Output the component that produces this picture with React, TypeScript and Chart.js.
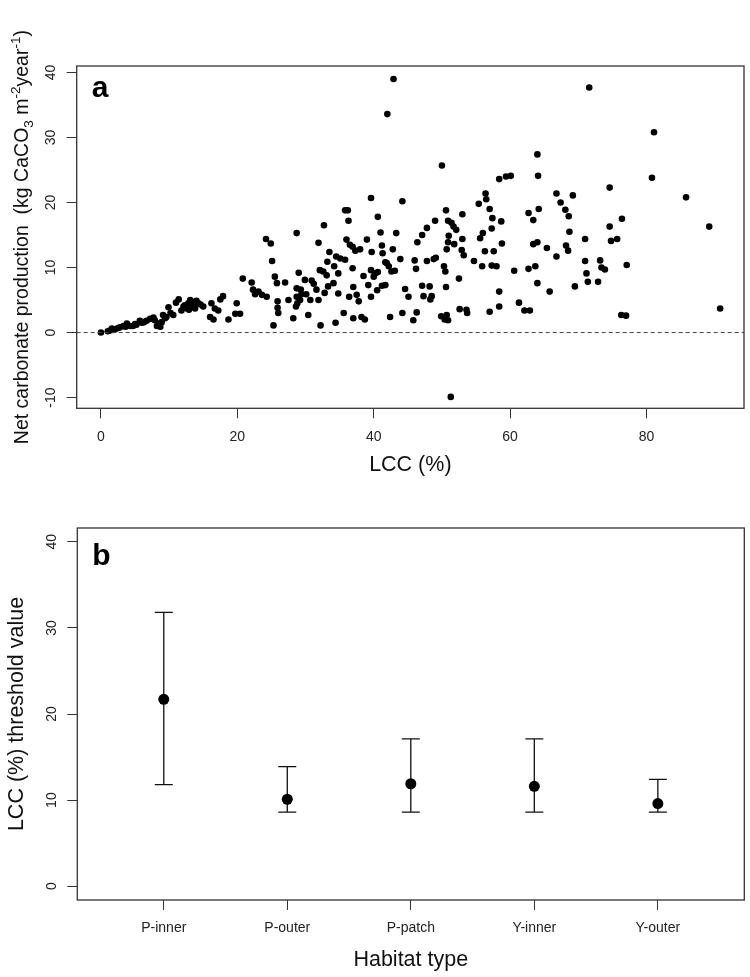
import React, { useEffect, useRef } from "react";
import { Chart, registerables } from "chart.js";

Chart.register(...registerables);

const FONT = '"Liberation Sans", Arial, Helvetica, sans-serif';

// ---------- Panel a: net carbonate production vs LCC ----------
const lccA = [
  0, 1.0, 1.3, 1.6, 1.8, 2.1, 2.5, 2.8, 3.3, 3.6, 3.8, 4.3, 4.7, 5.0, 5.2, 5.7, 6.0, 6.3, 6.7, 7.2,
  7.7, 7.9, 8.2, 8.4, 8.7, 8.9, 9.1, 9.4, 9.6, 9.9, 10.2, 10.6, 11.0, 11.4, 11.8, 12.1, 12.3, 12.6, 12.8, 12.9,
  13.1, 13.3, 13.4, 13.6, 13.8, 14.0, 14.3, 14.6, 15.0, 16.0, 16.2, 16.5, 16.7, 17.2, 17.5, 17.9, 18.7, 19.7, 19.9, 20.4,
  20.8, 22.1, 22.3, 22.6, 23.1, 23.6, 24.2, 24.3, 24.9, 25.1, 25.3, 25.5, 25.8, 25.9, 25.9, 26.0, 27.0, 27.5, 28.2, 28.7,
  29.0, 28.7, 28.7, 28.8, 28.6, 29.3, 29.4, 29.2, 29.9, 30.1, 30.4, 30.7, 30.9, 31.2, 31.6, 31.9, 31.9, 32.1, 32.2, 32.6,
  32.7, 32.8, 33.1, 33.2, 33.3, 33.5, 34.1, 34.2, 34.4, 34.5, 34.8, 34.8, 35.1, 35.6, 35.8, 35.8, 36.0, 36.2, 36.3, 36.4,
  36.5, 36.9, 36.9, 37.0, 37.0, 37.3, 37.5, 37.8, 38.0, 38.2, 38.5, 38.7, 39.0, 39.2, 39.6, 39.6, 39.6, 39.7, 40.0, 40.2,
  40.5, 40.6, 40.6, 41.0, 41.2, 41.2, 41.3, 41.7, 41.7, 41.9, 42.0, 42.2, 42.4, 42.6, 42.8, 42.9, 43.1, 43.3, 43.9, 44.2,
  44.2, 44.6, 45.1, 45.8, 46.0, 46.2, 46.3, 46.4, 47.1, 47.1, 47.3, 47.8, 47.8, 48.2, 48.3, 48.5, 48.8, 49.0, 49.1, 49.9,
  50.0, 50.3, 50.4, 50.5, 50.6, 50.6, 50.7, 50.7, 50.9, 50.9, 50.9, 51.0, 51.3, 51.4, 51.7, 51.8, 52.1, 52.5, 52.6, 52.9,
  53.0, 53.0, 53.2, 53.6, 53.7, 54.7, 55.4, 55.6, 55.9, 56.0, 56.3, 56.4, 56.5, 57.0, 57.0, 57.3, 57.3, 57.4, 57.6, 58.0,
  58.4, 58.4, 58.4, 58.7, 58.8, 59.4, 60.1, 60.6, 61.3, 62.1, 62.7, 62.7, 62.9, 63.4, 63.4, 63.7, 64.0, 64.0, 64.0, 64.1,
  64.2, 65.4, 65.8, 66.8, 66.8, 67.4, 68.1, 68.2, 68.5, 68.6, 68.7, 69.2, 69.5, 71.0, 71.0, 71.2, 71.4, 71.6, 72.9, 73.2,
  73.4, 73.9, 74.6, 74.6, 74.8, 75.7, 76.3, 76.4, 77.0, 77.1, 80.8, 81.1, 85.8, 89.2, 90.8,
];
const netA = [
  0, 0.2, 0.3, 0.6, 0.4, 0.5, 0.7, 0.8, 1.0, 0.9, 1.4, 1.0, 1.0, 1.3, 1.2, 1.8, 1.5, 1.6, 1.8, 2.1,
  2.3, 1.9, 1.0, 1.4, 0.9, 1.6, 2.7, 2.2, 2.4, 3.9, 3.0, 2.7, 4.6, 5.1, 3.4, 4.0, 4.2, 3.7, 4.5, 3.5,
  5.0, 4.0, 4.7, 4.2, 3.7, 4.9, 4.5, 4.3, 4.0, 2.4, 4.5, 2.0, 3.7, 3.4, 5.1, 5.6, 2.0, 2.9, 4.5, 2.9,
  8.3, 7.7, 6.6, 5.9, 6.3, 5.8, 14.4, 5.5, 13.7, 11.0, 1.1, 8.6, 7.6, 4.8, 3.8, 3.0, 7.7, 5.0, 2.2, 15.3,
  9.2, 6.8, 5.5, 4.5, 4.0, 6.6, 5.9, 5.0, 8.1, 5.9, 2.7, 5.0, 8.0, 7.5, 6.6, 5.0, 13.8, 9.6, 1.1, 9.4,
  16.5, 6.1, 8.8, 10.9, 7.1, 12.4, 7.6, 10.2, 1.5, 11.7, 9.1, 6.0, 11.4, 3.0, 11.2, 18.8, 14.3, 18.8, 17.2, 5.5,
  13.5, 13.2, 9.9, 7.0, 2.2, 12.6, 5.8, 4.8, 12.8, 2.4, 8.7, 2.0, 14.3, 7.3, 9.6, 5.5, 20.7, 12.4, 8.6, 9.1,
  6.5, 9.3, 17.8, 15.4, 13.4, 7.2, 12.2, 7.3, 10.8, 10.7, 33.6, 10.2, 2.4, 9.4, 12.8, 39.0, 9.5, 15.3, 11.3, 3.0,
  20.2, 6.7, 5.5, 1.9, 11.1, 9.8, 3.1, 13.9, 15.0, 7.2, 5.6, 11.0, 16.1, 7.1, 5.1, 5.6, 11.3, 17.2, 11.5, 2.5,
  25.7, 10.2, 2.0, 9.4, 7.0, 18.8, 2.7, 12.8, 1.9, 13.9, 17.2, 14.9, -9.9, 16.9, 16.3, 13.6, 15.8, 8.3, 3.6, 12.7,
  14.4, 18.2, 11.9, 3.5, 3.0, 11.0, 19.8, 14.5, 10.2, 15.3, 12.5, 21.4, 20.5, 19.0, 3.2, 10.3, 16.0, 17.6, 12.5, 10.2,
  6.3, 4.0, 23.6, 17.1, 13.7, 24.0, 24.1, 9.5, 4.6, 3.4, 9.8, 18.4, 3.4, 17.3, 13.6, 10.2, 7.6, 13.9, 27.4, 24.1,
  19.0, 13.0, 6.3, 11.7, 21.4, 20.0, 18.9, 13.4, 12.6, 17.9, 15.5, 21.1, 7.1, 14.4, 11.0, 9.1, 7.8, 37.7, 7.8, 11.1,
  10.0, 9.7, 22.3, 16.3, 14.1, 14.4, 2.7, 17.5, 2.6, 10.4, 23.8, 30.8, 20.8, 16.3, 3.7,
];
const xTicksA = [0, 20, 40, 60, 80];
const yTicksA = [-10, 0, 10, 20, 30, 40];
const xRangeA = [-3.56, 94.3];
const yRangeA = [-11.65, 41.0];
const zeroLineA = [0, 0];

// ---------- Panel b: LCC threshold by habitat ----------
const habitats = ["P-inner", "P-outer", "P-patch", "Y-inner", "Y-outer"];
const thrMean = [21.7, 10.1, 11.9, 11.6, 9.6];
const thrLow = [11.8, 8.6, 8.6, 8.6, 8.6];
const thrHigh = [31.8, 13.9, 17.1, 17.1, 12.4];
const yTicksB = [0, 10, 20, 30, 40];
const xRangeB = [0.3, 5.7];
const yRangeB = [-1.6, 41.6];

const yTitleA = [
  { t: "Net carbonate production  (kg CaCO", k: "n" },
  { t: "3", k: "sub" },
  { t: " m", k: "n" },
  { t: "-2", k: "sup" },
  { t: "year", k: "n" },
  { t: "-1", k: "sup" },
  { t: ")", k: "n" },
];

const framePlugin = (letter: string, dy: number) => ({
  id: "frame_" + letter,
  afterDraw(chart: any) {
    const { ctx, chartArea: a } = chart;
    ctx.save();
    ctx.strokeStyle = "#333";
    ctx.lineWidth = 1.3;
    ctx.strokeRect(a.left, a.top, a.right - a.left, a.bottom - a.top);
    ctx.fillStyle = "#000";
    ctx.font = `bold 30px ${FONT}`;
    ctx.textAlign = "left";
    ctx.textBaseline = "alphabetic";
    ctx.fillText(letter, a.left + 15, a.top + dy);
    ctx.restore();
  },
});

const richTitlePlugin = (cx: number) => ({
  id: "richTitle",
  afterDraw(chart: any) {
    const { ctx, chartArea: a } = chart;
    const base = 19.5;
    const small = 13.5;
    const fontOf = (k: string) => `${k === "n" ? base : small}px ${FONT}`;
    ctx.save();
    let total = 0;
    const widths = yTitleA.map((s) => {
      ctx.font = fontOf(s.k);
      const w = ctx.measureText(s.t).width;
      total += w;
      return w;
    });
    ctx.translate(cx, (a.top + a.bottom) / 2);
    ctx.rotate(-Math.PI / 2);
    ctx.fillStyle = "#111";
    ctx.textAlign = "left";
    ctx.textBaseline = "alphabetic";
    let x = -total / 2;
    const baseY = base * 0.36;
    yTitleA.forEach((s, i) => {
      ctx.font = fontOf(s.k);
      const dy = s.k === "sub" ? base * 0.28 : s.k === "sup" ? -base * 0.42 : 0;
      ctx.fillText(s.t, x, baseY + dy);
      x += widths[i];
    });
    ctx.restore();
  },
});

const errorBarPlugin = {
  id: "errorBars",
  beforeDatasetsDraw(chart: any) {
    const { ctx, scales } = chart;
    const xs = scales.x;
    const ys = scales.y;
    ctx.save();
    ctx.strokeStyle = "#111";
    ctx.lineWidth = 1.3;
    thrMean.forEach((_, i) => {
      const px = xs.getPixelForValue(i + 1);
      const lo = ys.getPixelForValue(thrLow[i]);
      const hi = ys.getPixelForValue(thrHigh[i]);
      ctx.beginPath();
      ctx.moveTo(px, lo);
      ctx.lineTo(px, hi);
      ctx.moveTo(px - 9, lo);
      ctx.lineTo(px + 9, lo);
      ctx.moveTo(px - 9, hi);
      ctx.lineTo(px + 9, hi);
      ctx.stroke();
    });
    ctx.restore();
  },
};

const tickGrid = {
  display: true,
  drawOnChartArea: false,
  drawTicks: true,
  tickLength: 10,
  color: "#333",
  lineWidth: 1,
};

export default function App() {
  const refA = useRef<HTMLCanvasElement>(null);
  const refB = useRef<HTMLCanvasElement>(null);

  useEffect(() => {
    const chartA = new Chart(refA.current as HTMLCanvasElement, {
      type: "scatter",
      data: {
        datasets: [
          {
            data: xRangeA.map((x, i) => ({ x, y: zeroLineA[i] })),
            showLine: true,
            borderColor: "#444",
            borderWidth: 1,
            borderDash: [4, 3],
            pointRadius: 0,
          },
          {
            data: lccA.map((x, i) => ({ x, y: netA[i] })),
            pointRadius: 3.3,
            pointBackgroundColor: "#000",
            pointBorderWidth: 0,
            borderWidth: 0,
          },
        ],
      } as any,
      options: {
        animation: false,
        responsive: false,
        maintainAspectRatio: false,
        events: [],
        layout: { padding: { top: 66, right: 6, bottom: 0, left: 0 } },
        plugins: { legend: { display: false }, tooltip: { enabled: false } },
        scales: {
          x: {
            type: "linear",
            position: "bottom",
            min: xRangeA[0],
            max: xRangeA[1],
            afterBuildTicks: (s: any) => {
              s.ticks = xTicksA.map((v) => ({ value: v }));
            },
            afterFit: (s: any) => {
              s.height = 81.7;
            },
            grid: tickGrid,
            border: { display: false },
            ticks: { autoSkip: false, maxRotation: 0, padding: 10, color: "#222", font: { family: FONT, size: 14 } },
            title: {
              display: true,
              text: "LCC (%)",
              color: "#111",
              font: { family: FONT, size: 21.5 },
              padding: { top: 0, bottom: 12 },
            },
          },
          y: {
            type: "linear",
            position: "left",
            min: yRangeA[0],
            max: yRangeA[1],
            afterBuildTicks: (s: any) => {
              s.ticks = yTicksA.map((v) => ({ value: v }));
            },
            afterFit: (s: any) => {
              s.width = 76.7;
            },
            grid: tickGrid,
            border: { display: false },
            ticks: {
              autoSkip: false,
              minRotation: 90,
              maxRotation: 90,
              crossAlign: "center",
              padding: 5.5,
              color: "#222",
              font: { family: FONT, size: 14 },
            },
            title: { display: false },
          },
        },
      } as any,
      plugins: [framePlugin("a", 31), richTitlePlugin(21)],
    });

    const chartB = new Chart(refB.current as HTMLCanvasElement, {
      type: "scatter",
      data: {
        datasets: [
          {
            data: thrMean.map((v, i) => ({ x: i + 1, y: v })),
            pointRadius: 5.5,
            pointBackgroundColor: "#000",
            pointBorderWidth: 0,
            borderWidth: 0,
          },
        ],
      } as any,
      options: {
        animation: false,
        responsive: false,
        maintainAspectRatio: false,
        events: [],
        layout: { padding: { top: 38, right: 5.7, bottom: 0, left: 0 } },
        plugins: { legend: { display: false }, tooltip: { enabled: false } },
        scales: {
          x: {
            type: "linear",
            position: "bottom",
            min: xRangeB[0],
            max: xRangeB[1],
            afterBuildTicks: (s: any) => {
              s.ticks = habitats.map((_, i) => ({ value: i + 1 }));
            },
            afterFit: (s: any) => {
              s.height = 77;
            },
            grid: tickGrid,
            border: { display: false },
            ticks: {
              autoSkip: false,
              maxRotation: 0,
              padding: 9.3,
              color: "#222",
              font: { family: FONT, size: 14 },
              callback: (v: any) => habitats[Math.round(Number(v)) - 1] ?? "",
            },
            title: {
              display: true,
              text: "Habitat type",
              color: "#111",
              font: { family: FONT, size: 21.5 },
              padding: { top: 0, bottom: 4 },
            },
          },
          y: {
            type: "linear",
            position: "left",
            min: yRangeB[0],
            max: yRangeB[1],
            afterBuildTicks: (s: any) => {
              s.ticks = yTicksB.map((v) => ({ value: v }));
            },
            afterFit: (s: any) => {
              s.width = 77.3;
            },
            grid: tickGrid,
            border: { display: false },
            ticks: {
              autoSkip: false,
              minRotation: 90,
              maxRotation: 90,
              crossAlign: "center",
              padding: 7.8,
              color: "#222",
              font: { family: FONT, size: 14 },
            },
            title: {
              display: true,
              text: "LCC (%) threshold value",
              color: "#111",
              font: { family: FONT, size: 21.5 },
              padding: { top: 4.6, bottom: 0 },
            },
          },
        },
      } as any,
      plugins: [framePlugin("b", 37), errorBarPlugin],
    });

    return () => {
      chartA.destroy();
      chartB.destroy();
    };
  }, []);

  return (
    <div style={{ position: "absolute", left: 0, top: 0, width: 750, height: 977, background: "#fff" }}>
      <canvas
        ref={refA}
        width={750}
        height={490}
        style={{ position: "absolute", left: 0, top: 0, width: 750, height: 490 }}
      />
      <canvas
        ref={refB}
        width={750}
        height={487}
        style={{ position: "absolute", left: 0, top: 490, width: 750, height: 487 }}
      />
    </div>
  );
}
